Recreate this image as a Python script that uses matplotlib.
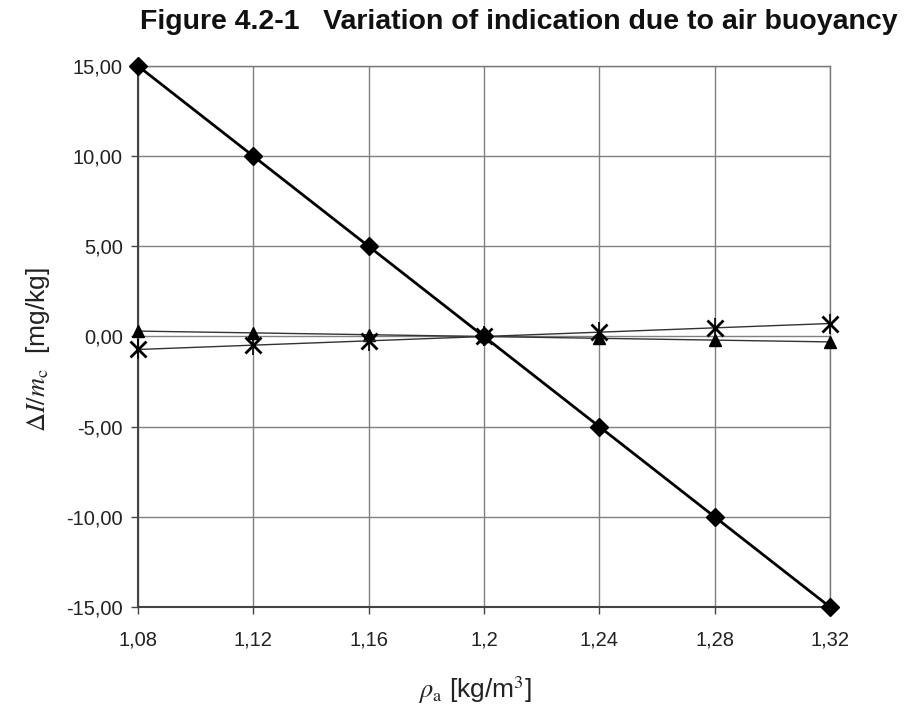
import matplotlib
matplotlib.use("Agg")
import matplotlib.pyplot as plt
from matplotlib.ticker import FixedLocator

rho = [1.08, 1.12, 1.16, 1.20, 1.24, 1.28, 1.32]
diamond_vals = [15, 10, 5, 0, -5, -10, -15]
triangle_vals = [0.3, 0.2, 0.1, 0, -0.1, -0.2, -0.3]
star_vals = [-0.72, -0.48, -0.24, 0, 0.24, 0.48, 0.72]
xtick_labels = ["1,08", "1,12", "1,16", "1,2", "1,24", "1,28", "1,32"]
yticks = [-15, -10, -5, 0, 5, 10, 15]
ytick_labels = ["-15,00", "-10,00", "-5,00", "0,00", "5,00", "10,00", "15,00"]

plt.rcParams['font.family'] = ['Liberation Sans', 'DejaVu Sans']
plt.rcParams['mathtext.fontset'] = 'stix'

fig = plt.figure(figsize=(9.13, 7.12), dpi=100)
ax = fig.add_axes([138/913, 1-607/712, (830-138)/913, (607-66)/712])

ax.plot(rho, triangle_vals, color='#333333', lw=1.0, marker='^', ms=9,
        mfc='black', mec='black', zorder=3, clip_on=False)
ax.plot(rho, star_vals, color='#333333', lw=1.0, marker='x', ms=12, mew=2.0,
        mfc='black', mec='black', zorder=3, clip_on=False)
ax.plot(rho, star_vals, ls='none', marker='|', ms=14, mew=1.2,
        mec='black', zorder=3, clip_on=False)
ax.plot(rho, diamond_vals, color='black', lw=2.0, marker='D', ms=9,
        mfc='black', mec='black', zorder=4, clip_on=False)

ax.set_xlim(1.08, 1.32)
ax.set_ylim(-15, 15)
ax.xaxis.set_major_locator(FixedLocator(rho))
ax.set_xticklabels(xtick_labels)
ax.yaxis.set_major_locator(FixedLocator(yticks))
ax.set_yticklabels(ytick_labels)
ax.grid(True, color='#808080', lw=1.0)
ax.set_axisbelow(True)
for s in ax.spines.values():
    s.set_color('#777777')
    s.set_linewidth(1.0)
ax.spines['left'].set_color('#444444')
ax.spines['bottom'].set_color('#444444')
ax.spines['left'].set_linewidth(1.5)
ax.spines['bottom'].set_linewidth(1.5)
ax.tick_params(axis='both', direction='out', length=5, width=1, color='#444444',
               labelsize=14.5, labelcolor='#222222')
ax.tick_params(axis='x', pad=12)
ax.tick_params(axis='y', pad=6)

fig.text(519/913, 1-22/712, "Figure 4.2-1   Variation of indication due to air buoyancy",
         ha='center', va='center', fontsize=20.5, fontweight='bold', color='#111111')
fig.text(38/913, 1-350/712, r"$\Delta I/m_\mathrm{c}$  [mg/kg]", rotation=90,
         ha='center', va='center', fontsize=19, color='#222222')
fig.text(475/913, 1-690/712, r"$\rho_\mathrm{a}$ [kg/m$^{3}$]",
         ha='center', va='center', fontsize=19, color='#222222')

fig.savefig("out.png", dpi=100)
